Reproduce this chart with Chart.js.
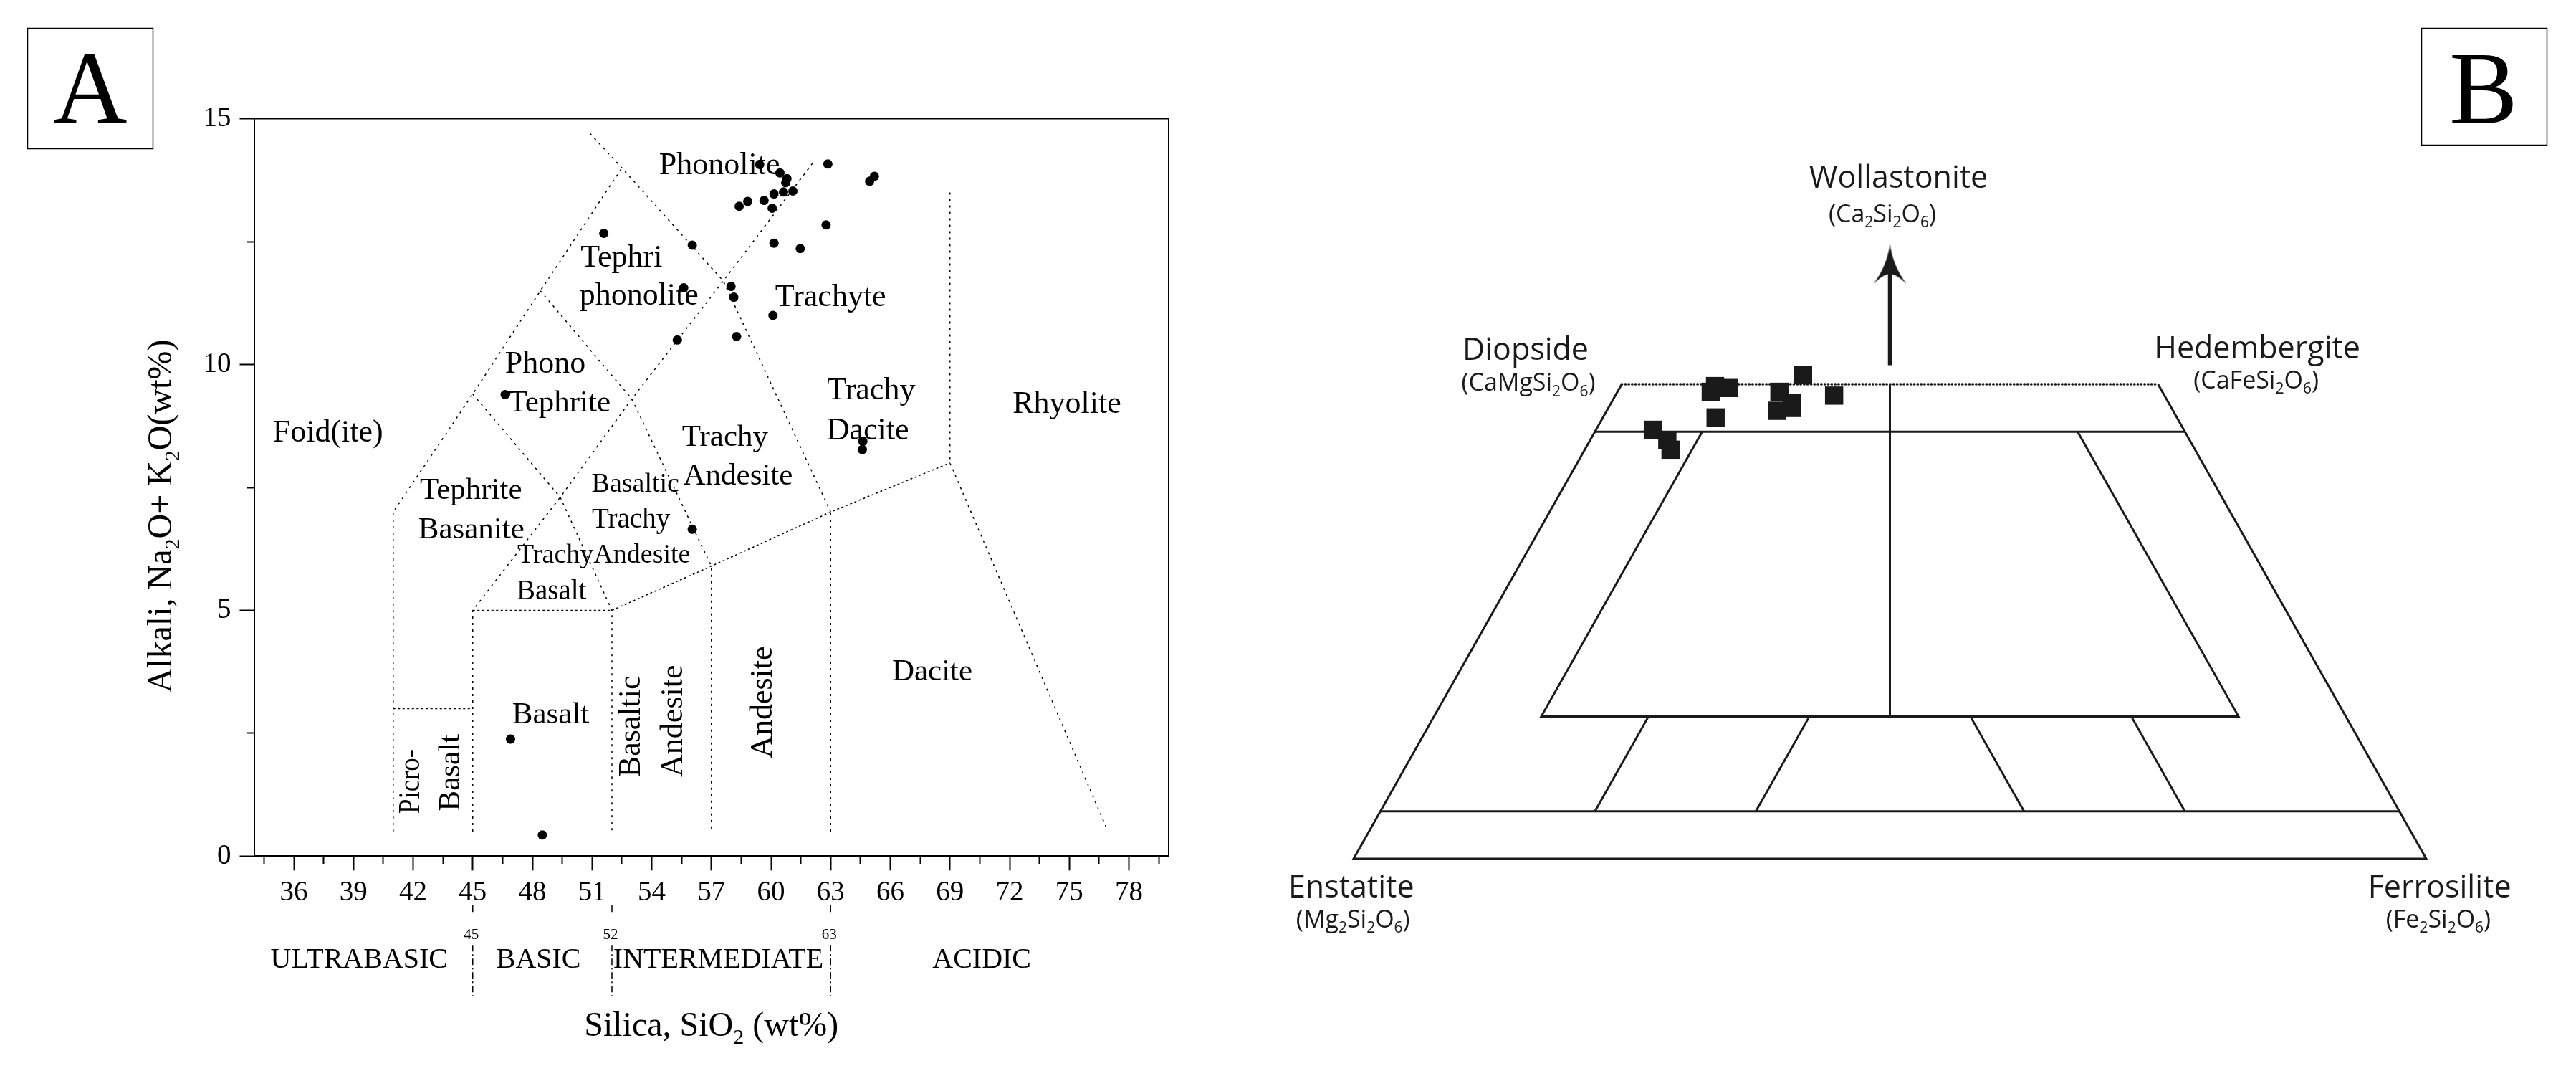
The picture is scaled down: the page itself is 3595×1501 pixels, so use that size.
<!DOCTYPE html>
<html>
<head>
<meta charset="utf-8">
<script src="https://cdn.jsdelivr.net/npm/chart.js@4.4.1/dist/chart.umd.min.js"></script>
<style>
  html, body { margin: 0; padding: 0; background: #fff; }
  #wrap { position: relative; width: 3595px; height: 1501px; }
  #tas { position: absolute; left: 0; top: 0; }
  #pyx { position: absolute; left: 1790px; top: 0; }
</style>
</head>
<body>
<div id="wrap">
  <canvas id="tas" width="1790" height="1501"></canvas>
  <canvas id="pyx" width="1805" height="1501"></canvas>
</div>
<script>
// ---- panel A : TAS diagram ----
const silica = [62.86, 65.2, 64.96, 59.43, 60.45, 60.8, 60.15, 60.63, 61.1, 60.74, 58.4, 58.83, 59.65, 60.06,
  62.77, 60.15, 61.47, 57.99, 58.13, 60.1, 51.59, 56.04, 55.61, 55.29, 58.27, 64.62, 64.59, 56.04, 46.63, 46.9, 48.5];
const alkali = [14.08, 13.83, 13.73, 14.07, 13.9, 13.78, 13.47, 13.51, 13.53, 13.7, 13.22, 13.32, 13.34, 13.18,
  12.84, 12.47, 12.36, 11.59, 11.37, 11.0, 12.67, 12.43, 11.56, 10.5, 10.57, 8.44, 8.27, 6.65, 9.39, 2.38, 0.43];

const xMajorTicks = [36, 39, 42, 45, 48, 51, 54, 57, 60, 63, 66, 69, 72, 75, 78];
const xMinorTicks = [34.5, 37.5, 40.5, 43.5, 46.5, 49.5, 52.5, 55.5, 58.5, 61.5, 64.5, 67.5, 70.5, 73.5, 76.5, 79.5];
const yMajorTicks = [0, 5, 10, 15];
const yMinorTicks = [2.5, 7.5, 12.5];

// field boundaries [SiO2, Na2O+K2O]
const foiditeLine = [[41, 0.5], [41, 7], [45, 9.4], [48.4, 11.5], [52.5, 14]];
const alkalineLine = [[45, 0.5], [45, 5], [49.4, 7.3], [53, 9.3], [57.6, 11.7], [62.1, 14.1]];
const phonoliteLine = [[50.9, 14.7], [52.5, 14], [57.6, 11.7], [63, 7]];
const tephriLine = [[48.4, 11.5], [53, 9.3], [57, 5.9], [57, 0.5]];
const basaniteLine = [[45, 9.4], [49.4, 7.3], [52, 5], [52, 0.5]];
const andesiteLine = [[63, 0.5], [63, 7]];
const rhyoliteLine = [[69, 13.5], [69, 8], [76.9, 0.55]];
const subalkLine = [[52, 5], [57, 5.9], [63, 7], [69, 8]];
const picroTop = [[41, 3], [45, 3]];
const basaltTop = [[45, 5], [52, 5]];

// [text, SiO2, alkali, font size, vertical]
const tasFieldLabels = [
  ['Foid(ite)', 37.72, 8.44, 44, 0],
  ['Phonolite', 57.41, 13.88, 44, 0],
  ['Tephri', 52.48, 11.99, 44, 0],
  ['phonolite', 53.36, 11.22, 44, 0],
  ['Trachyte', 63.0, 11.19, 44, 0],
  ['Phono', 48.65, 9.84, 44, 0],
  ['Tephrite', 49.36, 9.05, 43, 0],
  ['Tephrite', 44.91, 7.27, 43, 0],
  ['Basanite', 44.93, 6.46, 43, 0],
  ['Trachy', 57.69, 8.35, 43, 0],
  ['Andesite', 58.34, 7.56, 43, 0],
  ['Trachy', 65.04, 9.29, 44, 0],
  ['Dacite', 64.87, 8.47, 44, 0],
  ['Rhyolite', 74.88, 9.01, 44, 0],
  ['Basaltic', 53.18, 7.41, 38, 0],
  ['Trachy', 52.96, 6.69, 39, 0],
  ['Andesite', 53.51, 5.97, 38, 0],
  ['Trachy', 49.16, 5.97, 38, 0],
  ['Basalt', 48.96, 5.23, 39, 0],
  ['Basalt', 48.92, 2.70, 43, 0],
  ['Dacite', 68.11, 3.58, 43, 0],
  ['Picro-', 42.31, 1.52, 43, 1, 90],
  ['Basalt', 44.33, 1.70, 43, 1],
  ['Basaltic', 53.42, 2.64, 44, 1],
  ['Andesite', 55.52, 2.75, 44, 1],
  ['Andesite', 60.02, 3.13, 44, 1]
];
const silicaClasses = ['ULTRABASIC', 'BASIC', 'INTERMEDIATE', 'ACIDIC'];
const silicaClassPos = [39.29, 48.31, 57.35, 70.6];
const silicaLimits = [45, 52, 63];

// ---- panel B : pyroxene quadrilateral ----
const pyxWo = [45.2, 44.1, 43.1, 49.2, 49.8, 49.6, 46.5, 51.0, 48.8, 49.2, 48.0, 47.2, 47.5];
const pyxFs = [5.3, 7.2, 8.0, 8.7, 8.8, 10.2, 10.5, 16.4, 20.4, 15.1, 16.9, 15.9, 17.1];

// [Wo, Fs]
const quadOutline = [[50, 0], [0, 0], [0, 100], [50, 50]];
const wo50Line = [[50, 0], [50, 50]];
const wo45Line = [[45, 0], [45, 55]];
const wo5Line = [[5, 0], [5, 95]];
const augiteField = [[45, 10], [15, 10], [15, 75], [45, 45]];
const centralLine = [[50, 25], [15, 42.5]];
const tieFs20 = [[15, 20], [5, 20]];
const tieFs35 = [[15, 35], [5, 35]];
const tieEn35 = [[15, 50], [5, 60]];
const tieEn20 = [[15, 65], [5, 75]];
const arrowShaft = [[52, 24], [62, 19]];
const arrowHead = [[62.6, 18.7]];

const SERIF = '"Liberation Serif", "Times New Roman", serif';
const SANS = '"Open Sans", "Noto Sans", sans-serif';

function drawRich(ctx, parts, x, y, size, family, align) {
  const sub = Math.round(size * 0.62);
  let total = 0;
  const widths = parts.map(p => {
    ctx.font = (p[1] ? sub : size) + 'px ' + family;
    const w = ctx.measureText(p[0]).width;
    total += w;
    return w;
  });
  let cx = align === 'center' ? x - total / 2 : x;
  ctx.textAlign = 'left';
  ctx.textBaseline = 'alphabetic';
  parts.forEach((p, i) => {
    ctx.font = (p[1] ? sub : size) + 'px ' + family;
    ctx.fillText(p[0], cx, y + (p[1] ? size * 0.22 : 0));
    cx += widths[i];
  });
}

const toPts = arr => arr.map(([x, y]) => ({x, y}));
const dashed = {borderColor: '#000', borderWidth: 1.5, borderDash: [3, 6], pointRadius: 0,
  showLine: true, fill: false, order: 1, xAxisID: 'x', yAxisID: 'y'};
const dotted = {...dashed, borderDash: [3, 3.5]};

const tasDecor = {
  id: 'tasDecor',
  beforeDatasetsDraw(chart) {
    const {ctx, scales: {x, y}} = chart;
    ctx.save();
    ctx.fillStyle = '#000';
    ctx.textAlign = 'center';
    ctx.textBaseline = 'alphabetic';
    tasFieldLabels.forEach(([t, vx, vy, size, rot, maxW]) => {
      ctx.font = size + 'px ' + SERIF;
      const px = x.getPixelForValue(vx), py = y.getPixelForValue(vy);
      if (rot) {
        ctx.save();
        ctx.translate(px, py);
        ctx.rotate(-Math.PI / 2);
        if (maxW) ctx.fillText(t, 0, 0, maxW); else ctx.fillText(t, 0, 0);
        ctx.restore();
      } else {
        ctx.fillText(t, px, py);
      }
    });
    ctx.restore();
  },
  afterDraw(chart) {
    const {ctx, chartArea: a, scales: {x}} = chart;
    ctx.save();
    ctx.fillStyle = '#000';
    ctx.strokeStyle = '#000';
    // axis titles
    drawRich(ctx, [['Silica, SiO'], ['2', 1], [' (wt%)']], (a.left + a.right) / 2, a.bottom + 251, 48, SERIF, 'center');
    ctx.save();
    ctx.translate(a.left - 115.5, (a.top + a.bottom) / 2 + 40);
    ctx.rotate(-Math.PI / 2);
    drawRich(ctx, [['Alkali, Na'], ['2', 1], ['O+ K'], ['2', 1], ['O(wt%)']], 0, 0, 48, SERIF, 'center');
    ctx.restore();
    // silica classes
    ctx.textAlign = 'center';
    ctx.font = '40px ' + SERIF;
    silicaClasses.forEach((t, i) => ctx.fillText(t, x.getPixelForValue(silicaClassPos[i]), a.bottom + 156));
    ctx.font = '21px ' + SERIF;
    ctx.lineWidth = 1.5;
    silicaLimits.forEach(v => {
      const px = x.getPixelForValue(v);
      ctx.fillText(String(v), px - 2, a.bottom + 116);
      ctx.setLineDash([]);
      ctx.beginPath();
      ctx.moveTo(px, a.bottom + 68);
      ctx.lineTo(px, a.bottom + 78);
      ctx.stroke();
      ctx.setLineDash([9, 4, 2, 4]);
      ctx.beginPath();
      ctx.moveTo(px, a.bottom + 124);
      ctx.lineTo(px, a.bottom + 195);
      ctx.stroke();
    });
    ctx.setLineDash([]);
    // panel letter
    ctx.lineWidth = 1.5;
    ctx.strokeRect(38.5, 39.5, 175, 168);
    ctx.font = '143px ' + SERIF;
    ctx.fillText('A', 126, 171);
    ctx.restore();
  }
};

const fixTicks = list => scale => { scale.ticks = list.map(v => ({value: v})); };
const tickFont = {family: 'Liberation Serif', size: 39};

new Chart(document.getElementById('tas'), {
  type: 'scatter',
  data: {
    datasets: [
      {data: silica.map((v, i) => ({x: v, y: alkali[i]})), pointRadius: 6.5, pointBackgroundColor: '#000',
        pointBorderWidth: 0, showLine: false, order: 0, xAxisID: 'x', yAxisID: 'y'},
      ...[foiditeLine, alkalineLine, phonoliteLine, tephriLine, basaniteLine, andesiteLine, rhyoliteLine]
        .map(l => ({...dashed, data: toPts(l)})),
      ...[subalkLine, picroTop, basaltTop].map(l => ({...dotted, data: toPts(l)}))
    ]
  },
  options: {
    responsive: false,
    animation: false,
    events: [],
    layout: {autoPadding: false, padding: {left: 254.5, top: 165.7, right: 159, bottom: 206.7}},
    plugins: {legend: {display: false}, tooltip: {enabled: false}},
    scales: {
      x: {
        type: 'linear', position: 'bottom', min: 34, max: 80,
        afterBuildTicks: fixTicks(xMajorTicks),
        afterFit: s => { s.height = 100; },
        grid: {drawOnChartArea: false, tickLength: 20, tickWidth: 2, tickColor: '#000'},
        border: {color: '#000', width: 2},
        ticks: {color: '#000', font: tickFont, padding: 8, autoSkip: false, maxRotation: 0}
      },
      xMinor: {
        type: 'linear', axis: 'x', position: {y: 0}, min: 34, max: 80,
        afterBuildTicks: fixTicks(xMinorTicks),
        grid: {drawOnChartArea: false, tickLength: 11, tickWidth: 2, tickColor: '#000'},
        border: {display: false},
        ticks: {display: false}
      },
      xTop: {
        type: 'linear', axis: 'x', position: 'top', min: 34, max: 80,
        afterFit: s => { s.height = 0; },
        grid: {display: false},
        border: {color: '#000', width: 1.5},
        ticks: {display: false}
      },
      y: {
        type: 'linear', position: 'left', min: 0, max: 15,
        afterBuildTicks: fixTicks(yMajorTicks),
        afterFit: s => { s.width = 100; },
        grid: {drawOnChartArea: false, tickLength: 20, tickWidth: 2, tickColor: '#000'},
        border: {color: '#000', width: 2},
        ticks: {color: '#000', font: tickFont, padding: 12}
      },
      yMinor: {
        type: 'linear', axis: 'y', position: {x: 34}, min: 0, max: 15,
        afterBuildTicks: fixTicks(yMinorTicks),
        grid: {drawOnChartArea: false, tickLength: 10, tickWidth: 2, tickColor: '#000'},
        border: {display: false},
        ticks: {display: false}
      },
      yRight: {
        type: 'linear', axis: 'y', position: 'right', min: 0, max: 15,
        afterFit: s => { s.width = 0; },
        grid: {display: false},
        border: {color: '#000', width: 2},
        ticks: {display: false}
      }
    }
  },
  plugins: [tasDecor]
});

// ---- panel B ----
const proj = ([wo, fs]) => ({x: fs + wo / 2, y: wo});
const solid = {borderColor: '#1a1a1a', borderWidth: 3, pointRadius: 0, showLine: true, fill: false, order: 1};

// concave arrow tip used as a point style
const headImg = document.createElement('canvas');
headImg.width = 50;
headImg.height = 58;
(() => {
  const g = headImg.getContext('2d');
  g.fillStyle = '#1a1a1a';
  g.beginPath();
  g.moveTo(25, 0);
  g.quadraticCurveTo(29, 30, 48, 56);
  g.quadraticCurveTo(34, 42, 25, 42);
  g.quadraticCurveTo(16, 42, 2, 56);
  g.quadraticCurveTo(21, 30, 25, 0);
  g.closePath();
  g.fill();
})();

const pyxLabels = [
  [[['Wollastonite']], 50.8, 70.72, 43],
  [[['(Ca'], ['2', 1], ['Si'], ['2', 1], ['O'], ['6', 1], [')']], 49.3, 67.1, 34],
  [[['Diopside']], 16.03, 52.6, 43],
  [[['(CaMgSi'], ['2', 1], ['O'], ['6', 1], [')']], 16.3, 49.3, 34],
  [[['Hedembergite']], 84.24, 52.69, 43],
  [[['(CaFeSi'], ['2', 1], ['O'], ['6', 1], [')']], 84.14, 49.57, 34],
  [[['Enstatite']], -0.22, -4.06, 43],
  [[['(Mg'], ['2', 1], ['Si'], ['2', 1], ['O'], ['6', 1], [')']], -0.05, -7.24, 34],
  [[['Ferrosilite']], 101.24, -4.06, 43],
  [[['(Fe'], ['2', 1], ['Si'], ['2', 1], ['O'], ['6', 1], [')']], 101.13, -7.24, 34]
];

const pyxDecor = {
  id: 'pyxDecor',
  afterDraw(chart) {
    const {ctx, scales: {x, y}} = chart;
    ctx.save();
    ctx.fillStyle = '#1a1a1a';
    pyxLabels.forEach(([parts, vx, vy, size]) => {
      drawRich(ctx, parts, x.getPixelForValue(vx), y.getPixelForValue(vy), size, SANS, 'center');
    });
    ctx.strokeStyle = '#000';
    ctx.fillStyle = '#000';
    ctx.lineWidth = 1.5;
    ctx.strokeRect(1589.5, 39.5, 175, 163);
    ctx.font = '143px ' + SERIF;
    ctx.textAlign = 'center';
    ctx.textBaseline = 'alphabetic';
    ctx.fillText('B', 1676, 172);
    ctx.restore();
  }
};

new Chart(document.getElementById('pyx'), {
  type: 'scatter',
  data: {
    datasets: [
      {data: pyxWo.map((w, i) => proj([w, pyxFs[i]])), pointStyle: 'rect', pointRadius: 18,
        pointBackgroundColor: '#1a1a1a', pointBorderWidth: 0, showLine: false, order: 0},
      ...[quadOutline, wo45Line, wo5Line, augiteField, centralLine, tieFs20, tieFs35, tieEn35, tieEn20]
        .map(l => ({...solid, data: l.map(proj)})),
      {...solid, data: wo50Line.map(proj), borderWidth: 3.5, borderDash: [0.5, 4.3], borderCapStyle: 'round'},
      {...solid, data: arrowShaft.map(proj), borderWidth: 5.5},
      {data: arrowHead.map(proj), pointStyle: headImg, pointRadius: 29, showLine: false, order: 0}
    ]
  },
  options: {
    responsive: false,
    animation: false,
    events: [],
    layout: {autoPadding: false, padding: 0},
    plugins: {legend: {display: false}, tooltip: {enabled: false}},
    scales: {
      x: {type: 'linear', display: false, min: -6.613, max: 113.96},
      y: {type: 'linear', display: false, min: -22.885, max: 90.48}
    }
  },
  plugins: [pyxDecor]
});
</script>
</body>
</html>
